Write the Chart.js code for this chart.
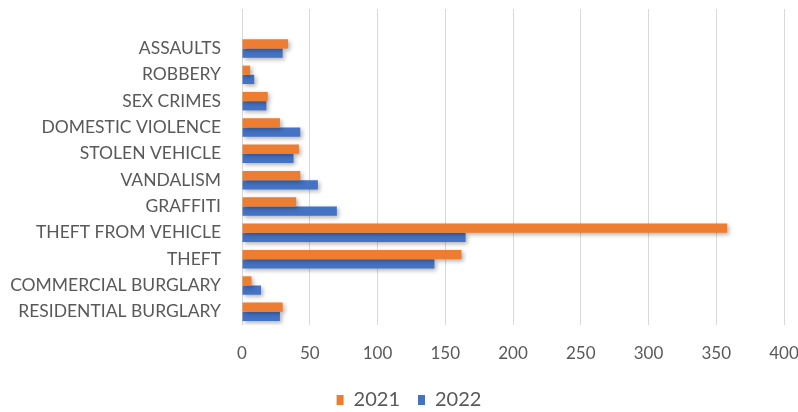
<!DOCTYPE html>
<html>
<head>
<meta charset="utf-8">
<script src="https://cdn.jsdelivr.net/npm/chart.js@4.4.1/dist/chart.umd.min.js"></script>
<style>
  html, body { margin: 0; padding: 0; background: #ffffff; }
  #wrap { width: 798px; height: 412px; position: relative; }
</style>
</head>
<body>
<div id="wrap"><canvas id="c" width="798" height="412"></canvas></div>
<script>
// ---- data ----
const categories = ['ASSAULTS', 'ROBBERY', 'SEX CRIMES', 'DOMESTIC VIOLENCE', 'STOLEN VEHICLE',
  'VANDALISM', 'GRAFFITI', 'THEFT FROM VEHICLE', 'THEFT', 'COMMERCIAL BURGLARY', 'RESIDENTIAL BURGLARY'];
const series2021 = [34, 6, 19, 28, 42, 43, 40, 358, 162, 7, 30];
const series2022 = [30, 9, 18, 43, 38, 56, 70, 165, 142, 14, 28];
const seriesNames = ['2021', '2022'];
const xTicks = [0, 50, 100, 150, 200, 250, 300, 350, 400];

// empty leading slot reproduces the blank band above the first category
const labels = [''].concat(categories);

const FONT = "Lato, 'Open Sans', Arial, sans-serif";
const TEXT = '#595959';

const shadowPlugin = {
  id: 'barShadow',
  afterLayout(chart) {
    // centre the legend under the plot rather than the whole canvas
    chart.legend.left += 17;
    chart.legend.right += 17;
  },
  beforeDatasetsDraw(chart) {
    const ctx = chart.ctx;
    ctx.save();
    ctx.shadowColor = 'rgba(0,0,0,0.30)';
    ctx.shadowBlur = 4;
    ctx.shadowOffsetX = 2;
    ctx.shadowOffsetY = 2;
  },
  afterDatasetsDraw(chart) {
    chart.ctx.restore();
  }
};

new Chart(document.getElementById('c'), {
  type: 'bar',
  data: {
    labels: labels,
    datasets: [
      { label: seriesNames[0], data: [null].concat(series2021), backgroundColor: '#ED7D31',
        categoryPercentage: 0.7, barPercentage: 1.0 },
      { label: seriesNames[1], data: [null].concat(series2022), backgroundColor: '#4472C4',
        categoryPercentage: 0.7, barPercentage: 1.0 }
    ]
  },
  options: {
    indexAxis: 'y',
    responsive: false,
    animation: false,
    devicePixelRatio: 1,
    layout: { padding: { left: 0, right: 14, top: 9, bottom: -8 } },
    scales: {
      x: {
        type: 'linear',
        min: 0, max: 400,
        afterBuildTicks(scale) { scale.ticks = xTicks.map(v => ({ value: v })); },
        afterFit(scale) { scale.height = 47; scale.paddingLeft = 0; scale.paddingRight = 0; },
        grid: { color: '#d9d9d9', lineWidth: 1, drawTicks: false },
        border: { display: false },
        ticks: { color: TEXT, font: { family: FONT, size: 17 }, padding: 18 }
      },
      y: {
        type: 'category',
        grid: { display: false, drawTicks: false },
        border: { display: false },
        ticks: { color: TEXT, font: { family: FONT, size: 17.5 }, padding: 21, autoSkip: false },
        afterFit(scale) { scale.width = 242; scale.paddingTop = 0; scale.paddingBottom = 0; }
      }
    },
    plugins: {
      legend: {
        position: 'bottom',
        labels: { color: TEXT, font: { family: FONT, size: 20 }, boxWidth: 7, boxHeight: 10, padding: 18 }
      },
      tooltip: { enabled: false }
    }
  },
  plugins: [shadowPlugin]
});
</script>
</body>
</html>
